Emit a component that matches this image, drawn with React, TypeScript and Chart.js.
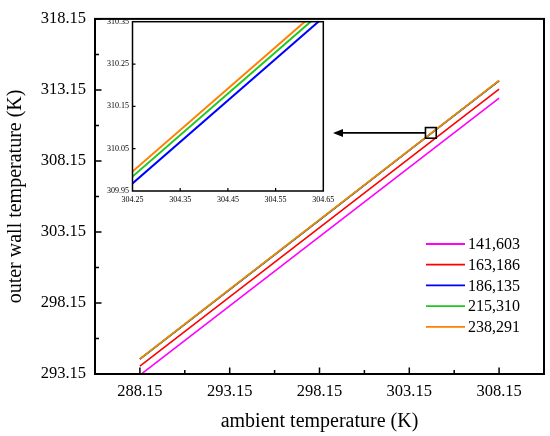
import { useEffect, useRef } from 'react';
import { Chart, registerables } from 'chart.js';
Chart.register(...registerables);

// ---------- data ----------
const ambientTemps = [288.15, 293.15, 298.15, 303.15, 308.15];
const s141603 = [293.07, 297.945, 302.82, 307.695, 312.57];
const s163186 = [293.7, 298.575, 303.45, 308.325, 313.2];
const s186135 = [294.19, 299.09, 303.99, 308.89, 313.79];
const s215310 = [294.206, 299.106, 304.006, 308.906, 313.806];
const s238291 = [294.218, 299.118, 304.018, 308.918, 313.818];
const seriesValues = [s141603, s163186, s186135, s215310, s238291];
const seriesLabels = ['141,603', '163,186', '186,135', '215,310', '238,291'];
const seriesColors = ['#FF00FF', '#FF0000', '#0000FF', '#1EC81E', '#FF8000'];
const seriesOrder = [4, 3, 2, 1, 0];

const mainXRange = [285.65, 310.65];
const mainYRange = [293.15, 318.15];
const mainXTicks = [288.15, 293.15, 298.15, 303.15, 308.15];
const mainXMinor = [290.65, 295.65, 300.65, 305.65];
const mainYTicks = [293.15, 298.15, 303.15, 308.15, 313.15, 318.15];
const mainYMinor = [295.65, 300.65, 305.65, 310.65, 315.65];

const insetXRange = [304.25, 304.65];
const insetYRange = [309.95, 310.35];
const insetXTicks = [304.25, 304.35, 304.45, 304.55, 304.65];
const insetYTicks = [309.95, 310.05, 310.15, 310.25, 310.35];

const zoomBox = [304.05, 304.65, 309.75, 310.5]; // xMin, xMax, yMin, yMax
const arrowTip = [298.9, 310.12];

const xTitle = 'ambient temperature (K)';
const yTitle = 'outer wall temperature (K)';
const FONT = "'Liberation Serif', 'Times New Roman', serif";

function makeDatasets(width: number) {
  return seriesValues.map((vals, i) => ({
    label: seriesLabels[i],
    data: vals.map((v, j) => ({ x: ambientTemps[j], y: v })),
    borderColor: seriesColors[i],
    backgroundColor: seriesColors[i],
    borderWidth: width,
    pointRadius: 0,
    tension: 0,
    order: seriesOrder[i],
  }));
}

function axesPlugin(id: string, mx: number[], my: number[], nx: number[], ny: number[], majorLen: number, minorLen: number, tickW: number, frameW: number, whiteBg: boolean) {
  return {
    id,
    beforeDatasetsDraw(chart: any) {
      if (!whiteBg) return;
      const { ctx, chartArea: a } = chart;
      ctx.save();
      ctx.fillStyle = '#fff';
      ctx.fillRect(a.left, a.top, a.right - a.left, a.bottom - a.top);
      ctx.restore();
    },
    afterDraw(chart: any) {
      const { ctx, chartArea: a, scales } = chart;
      const x = scales.x, y = scales.y;
      ctx.save();
      ctx.strokeStyle = '#000';
      ctx.lineWidth = tickW;
      ctx.beginPath();
      const vx = (v: number, len: number) => { const p = x.getPixelForValue(v); ctx.moveTo(p, a.bottom); ctx.lineTo(p, a.bottom - len); };
      const vy = (v: number, len: number) => { const p = y.getPixelForValue(v); ctx.moveTo(a.left, p); ctx.lineTo(a.left + len, p); };
      mx.forEach((v) => vx(v, majorLen));
      nx.forEach((v) => vx(v, minorLen));
      my.forEach((v) => vy(v, majorLen));
      ny.forEach((v) => vy(v, minorLen));
      ctx.stroke();
      ctx.lineWidth = frameW;
      ctx.strokeRect(a.left, a.top, a.right - a.left, a.bottom - a.top);
      ctx.restore();
    },
  };
}

const markerPlugin = {
  id: 'zoomMarker',
  afterDatasetsDraw(chart: any) {
    const { ctx, scales } = chart;
    const x = scales.x, y = scales.y;
    const l = x.getPixelForValue(zoomBox[0]);
    const r = x.getPixelForValue(zoomBox[1]);
    const b = y.getPixelForValue(zoomBox[2]);
    const t = y.getPixelForValue(zoomBox[3]);
    const cy = (t + b) / 2;
    const tip = x.getPixelForValue(arrowTip[0]);
    ctx.save();
    ctx.strokeStyle = '#000';
    ctx.fillStyle = '#000';
    ctx.lineWidth = 1.6;
    ctx.strokeRect(l, t, r - l, b - t);
    ctx.beginPath();
    ctx.moveTo(l, cy);
    ctx.lineTo(tip + 6, cy);
    ctx.stroke();
    ctx.beginPath();
    ctx.moveTo(tip, cy);
    ctx.lineTo(tip + 10, cy - 4);
    ctx.lineTo(tip + 10, cy + 4);
    ctx.closePath();
    ctx.fill();
    ctx.restore();
  },
};

const legendPlugin = {
  id: 'customLegend',
  afterDraw(chart: any) {
    const { ctx, chartArea: a } = chart;
    const x0 = a.right - 118;
    const y0 = a.bottom - 130;
    ctx.save();
    ctx.font = `16px ${FONT}`;
    ctx.textBaseline = 'middle';
    ctx.fillStyle = '#000';
    seriesLabels.forEach((lab, i) => {
      const yy = y0 + i * 20.7;
      ctx.strokeStyle = seriesColors[i];
      ctx.lineWidth = 1.8;
      ctx.beginPath();
      ctx.moveTo(x0, yy);
      ctx.lineTo(x0 + 39, yy);
      ctx.stroke();
      ctx.fillText(lab, x0 + 42, yy + 1);
    });
    ctx.restore();
  },
};

const fmt = (v: any) => Number(v).toFixed(2);

export default function App() {
  const mainRef = useRef<HTMLCanvasElement>(null);
  const insetRef = useRef<HTMLCanvasElement>(null);

  useEffect(() => {
    document.body.style.margin = '0';
    const main = new Chart(mainRef.current!, {
      type: 'line',
      data: { datasets: makeDatasets(1.6) as any },
      options: {
        animation: false,
        responsive: false,
        devicePixelRatio: 1,
        layout: { padding: { top: 12.7, right: 6, left: 0, bottom: 0 } },
        plugins: { legend: { display: false }, tooltip: { enabled: false } },
        scales: {
          x: {
            type: 'linear',
            min: mainXRange[0],
            max: mainXRange[1],
            afterBuildTicks: (s: any) => { s.ticks = mainXTicks.map((v) => ({ value: v })); },
            afterFit: (s: any) => { s.height = 62; },
            grid: { display: false, drawTicks: false },
            border: { display: false },
            ticks: { callback: fmt, color: '#000', padding: 8, maxRotation: 0, font: { family: FONT, size: 16.5 } },
            title: { display: true, text: xTitle, color: '#000', padding: { top: 0, bottom: 2 }, font: { family: FONT, size: 20 } },
          },
          y: {
            type: 'linear',
            min: mainYRange[0],
            max: mainYRange[1],
            afterBuildTicks: (s: any) => { s.ticks = mainYTicks.map((v) => ({ value: v })); },
            afterFit: (s: any) => { s.width = 95; },
            grid: { display: false, drawTicks: false },
            border: { display: false },
            ticks: { callback: fmt, color: '#000', padding: 9, font: { family: FONT, size: 16.5 } },
            title: { display: true, text: yTitle, color: '#000', padding: { top: 3.5, bottom: 0 }, font: { family: FONT, size: 20 } },
          },
        },
      },
      plugins: [axesPlugin('mainAxes', mainXTicks, mainYTicks, mainXMinor, mainYMinor, 6.5, 4, 1.5, 2, false), markerPlugin, legendPlugin],
    });

    const inset = new Chart(insetRef.current!, {
      type: 'line',
      data: { datasets: makeDatasets(2) as any },
      options: {
        animation: false,
        responsive: false,
        devicePixelRatio: 1,
        layout: { padding: { top: 21.7, right: 16.7, left: 0, bottom: 0 } },
        plugins: { legend: { display: false }, tooltip: { enabled: false } },
        scales: {
          x: {
            type: 'linear',
            min: insetXRange[0],
            max: insetXRange[1],
            afterBuildTicks: (s: any) => { s.ticks = insetXTicks.map((v) => ({ value: v })); },
            afterFit: (s: any) => { s.height = 24; },
            grid: { display: false, drawTicks: false },
            border: { display: false },
            ticks: { callback: fmt, color: '#000', padding: 4, maxRotation: 0, font: { family: FONT, size: 8 } },
          },
          y: {
            type: 'linear',
            min: insetYRange[0],
            max: insetYRange[1],
            afterBuildTicks: (s: any) => { s.ticks = insetYTicks.map((v) => ({ value: v })); },
            afterFit: (s: any) => { s.width = 132.5; },
            grid: { display: false, drawTicks: false },
            border: { display: false },
            ticks: { callback: fmt, color: '#000', padding: 3.5, font: { family: FONT, size: 8 } },
          },
        },
      },
      plugins: [axesPlugin('insetAxes', insetXTicks.slice(1, -1), insetYTicks.slice(1, -1), [], [], 3, 0, 1.2, 1.5, true)],
    });

    return () => {
      main.destroy();
      inset.destroy();
    };
  }, []);

  return (
    <div style={{ position: 'relative', width: 550, height: 436, background: '#fff' }}>
      <canvas ref={mainRef} width={550} height={436} style={{ position: 'absolute', left: 0, top: 0 }} />
      <canvas ref={insetRef} width={340} height={215} style={{ position: 'absolute', left: 0, top: 0 }} />
    </div>
  );
}
